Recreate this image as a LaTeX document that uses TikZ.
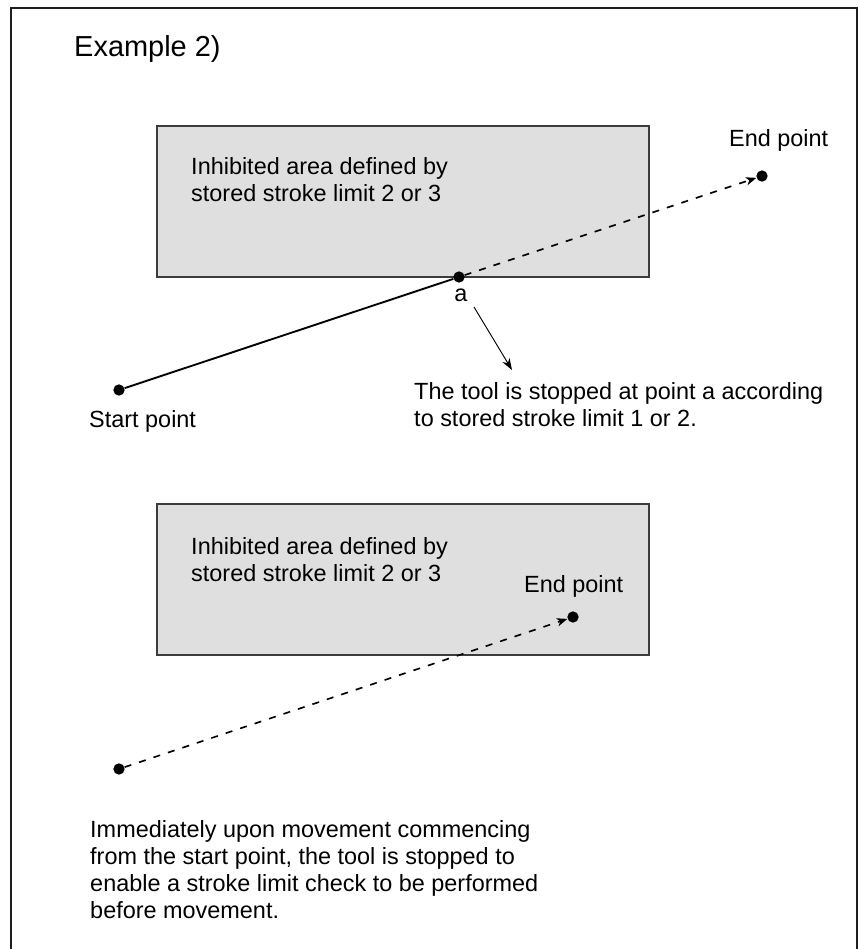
\documentclass[tikz,border=0pt]{standalone}
\usepackage{fontspec}
\setmainfont{Liberation Sans}
\usetikzlibrary{arrows.meta}
\definecolor{ZoneF}{HTML}{DFDFDF}
\definecolor{ZoneD}{HTML}{3C3C3C}
\definecolor{FrameD}{HTML}{1E1E1E}
\tikzset{
  zone/.style={
    rectangle, draw=ZoneD, fill=ZoneF, line width=0.9pt,
    minimum width=14.76cm, minimum height=4.53cm, inner sep=0pt,
  },
  dot/.style={
    circle, fill=black, inner sep=0pt, minimum size=0.34cm,
  },
  txt/.style={
    anchor=north west, inner sep=0pt, align=left,
    font=\fontsize{20}{23}\selectfont,
  },
  lbl/.style={
    anchor=base west, inner sep=0pt,
    font=\fontsize{20}{23}\selectfont,
  },
  feed/.style={line width=1.6pt},
  rapid/.style={
    dash pattern=on 6pt off 7pt, line width=1.4pt,
    -{Stealth[length=9pt,width=7pt,inset=2.5pt]},
  },
  note/.style={
    line width=0.8pt, -{Stealth[length=10pt,width=7pt]},
  },
}
\begin{document}
\begin{tikzpicture}[x=0.03cm,y=-0.03cm]
    \useasboundingbox (0,0) rectangle (858,949);
    \draw[line width=1.7pt,color=FrameD] (11,949) -- (11,8) -- (857,8) -- (857,949);
    \node[anchor=base west,inner sep=0pt,font=\fontsize{24.7}{29}\selectfont] (title) at (74,56) {Example 2)};
    \node[zone] (area1) at (403,201.5) {};
    \node[zone] (area2) at (403,579.5) {};
    \node[txt] (desc1) at (191,157) {Inhibited area defined by\\stored stroke limit 2 or 3};
    \node[txt] (desc2) at (191,537) {Inhibited area defined by\\stored stroke limit 2 or 3};
    \foreach \n/\x/\y in {s1/119/390, pa/459/277, e1/762/176, s2/119/769, e2/573/617}{
      \node[dot] (\n) at (\x,\y) {};
    }
    \node[lbl] (endlbl1) at (729,146) {End point};
    \node[lbl] (startlbl) at (89,427) {Start point};
    \node[inner sep=0pt,font=\fontsize{20}{23}\selectfont] (albl) at (461,295) {a};
    \node[lbl] (endlbl2) at (524,592) {End point};
    \node[txt] (stopnote) at (414,382) {The tool is stopped at point a according\\to stored stroke limit 1 or 2.};
    \node[txt] (checknote) at (90,820) {Immediately upon movement commencing\\from the start point, the tool is stopped to\\enable a stroke limit check to be performed\\before movement.};
    \coordinate (tail) at (474,307);
    \coordinate (tip) at (512,370);
    \draw[feed] (s1) -- (pa);
    \draw[rapid] (pa) -- (e1);
    \draw[note] (tail) -- (tip);
    \draw[rapid] (s2) -- (e2);
\end{tikzpicture}
\end{document}
